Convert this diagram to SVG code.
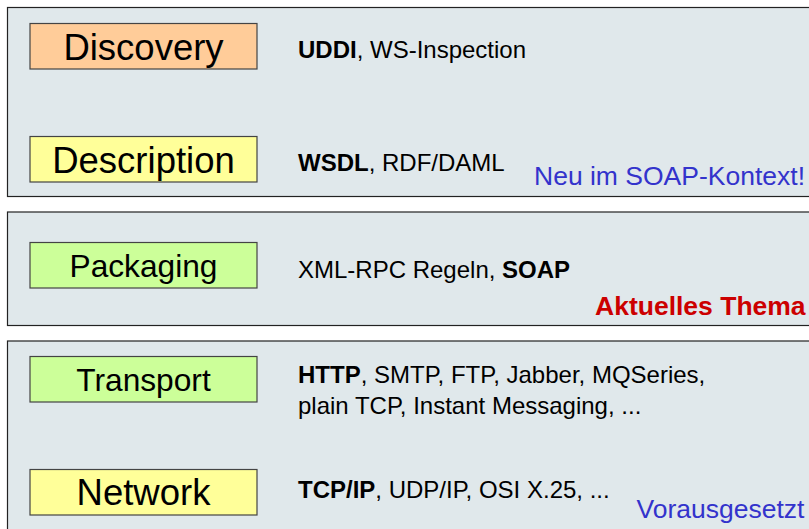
<svg xmlns="http://www.w3.org/2000/svg" width="809" height="529" viewBox="0 0 809 529">
<style>
.panel{fill:#E0E8EB;stroke:#222;stroke-width:1.2}
.box{stroke:#444;stroke-width:1.2}
.lbl{font-family:"Liberation Sans",Arial,sans-serif;fill:#000;text-anchor:middle}
.txt{font-family:"Liberation Sans",Arial,sans-serif;font-size:24px;fill:#000}
.b{font-weight:bold}
.note{font-family:"Liberation Sans",Arial,sans-serif;font-size:26.5px}
</style>
<rect width="809" height="529" fill="#fff"/>
<g id="panel-top">
<rect class="panel" x="7.5" y="7.5" width="820" height="189"/>
</g>
<g id="panel-mid">
<rect class="panel" x="7.5" y="212" width="820" height="113.5"/>
</g>
<g id="panel-bottom">
<rect class="panel" x="7.5" y="341" width="820" height="200"/>
</g>
<g id="discovery">
<rect class="box" x="30" y="23.5" width="227" height="45.5" fill="#FFCC99"/>
<text class="lbl" x="143.5" y="60" font-size="36.5">Discovery</text>
</g>
<g id="description">
<rect class="box" x="30" y="136.5" width="227" height="45.5" fill="#FFFF99"/>
<text class="lbl" x="143.5" y="173" font-size="36.5">Description</text>
</g>
<g id="packaging">
<rect class="box" x="30" y="242.5" width="227" height="45.5" fill="#CCFF99"/>
<text class="lbl" x="143.5" y="277" font-size="31.7">Packaging</text>
</g>
<g id="transport">
<rect class="box" x="30" y="356.5" width="227" height="45.5" fill="#CCFF99"/>
<text class="lbl" x="143.5" y="391" font-size="31.7">Transport</text>
</g>
<g id="network">
<rect class="box" x="30" y="469.5" width="227" height="45.5" fill="#FFFF99"/>
<text class="lbl" x="143.5" y="505" font-size="36.5">Network</text>
</g>
<g id="texts">
<text class="txt" x="298" y="57.5"><tspan class="b">UDDI</tspan>, WS-Inspection</text>
<text class="txt" x="298" y="171"><tspan class="b">WSDL</tspan>, RDF/DAML</text>
<text class="txt" x="298" y="277.5">XML-RPC Regeln, <tspan class="b">SOAP</tspan></text>
<text class="txt" x="298" y="383"><tspan class="b">HTTP</tspan>, SMTP, FTP, Jabber, MQSeries,</text>
<text class="txt" x="298" y="413.5">plain TCP, Instant Messaging, ...</text>
<text class="txt" x="298" y="497.5"><tspan class="b">TCP/IP</tspan>, UDP/IP, OSI X.25, ...</text>
<text class="note" x="534" y="185" fill="#3333CC">Neu im SOAP-Kontext!</text>
<text class="note b" x="595" y="315" fill="#CC0000">Aktuelles Thema</text>
<text class="note" x="636.5" y="517.5" fill="#3333CC">Vorausgesetzt</text>
</g>
<g id="connectors"></g>
</svg>
